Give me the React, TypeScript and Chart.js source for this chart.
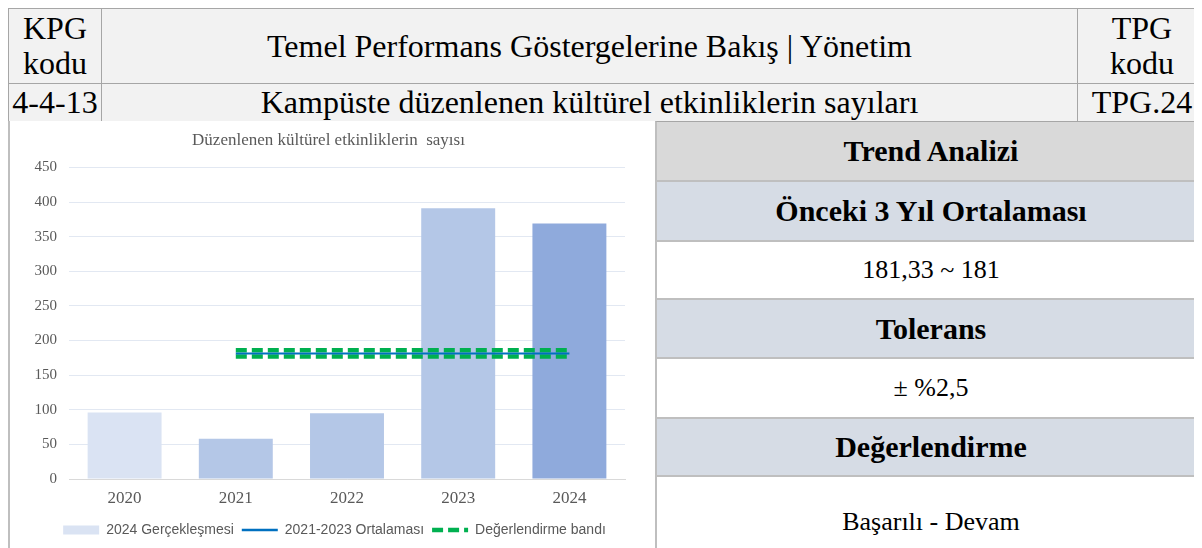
import React, { useEffect, useRef } from "react";
import { Chart, registerables } from "chart.js";

Chart.register(...registerables);

// ---- data ----
const categories = ["2020", "2021", "2022", "2023", "2024"];
const actualValues = [96, 58, 95, 391, 369];
const averageValues = [null, 181.33, 181.33, 181.33, 181.33];
const bandUpperValues = [null, 185.86, 185.86, 185.86, 185.86];
const bandLowerValues = [null, 176.8, 176.8, 176.8, 176.8];
const yTickMin = 0;
const yTickMax = 450;
const yTickStep = 50;
const legendLabels = ["2024 Gerçekleşmesi", "2021-2023 Ortalaması", "Değerlendirme bandı"];
const chartTitle = "Düzenlenen kültürel etkinliklerin  sayısı";

const barColors = ["#dae3f3", "#b4c7e7", "#b4c7e7", "#b4c7e7", "#8faadc"];
const avgColor = "#0070c0";
const bandColor = "#00b050";
const SERIF = "'Times New Roman', 'Liberation Serif', serif";

const legendShift = {
  id: "legendShift",
  afterLayout(chart: any) {
    if (chart.legend) {
      chart.legend.left += 6;
      chart.legend.right += 6;
    }
  },
};

function BarChart() {
  const ref = useRef<HTMLCanvasElement | null>(null);
  useEffect(() => {
    if (!ref.current) return;
    const chart = new Chart(ref.current, {
      type: "bar",
      plugins: [legendShift],
      data: {
        labels: categories,
        datasets: [
          {
            type: "bar",
            label: legendLabels[0],
            data: actualValues,
            backgroundColor: barColors,
            categoryPercentage: 0.665,
            barPercentage: 1,
            order: 3,
          },
          {
            type: "line",
            label: legendLabels[1],
            data: averageValues as any,
            borderColor: avgColor,
            backgroundColor: avgColor,
            borderWidth: 2,
            pointRadius: 0,
            fill: false,
            order: 0,
          },
          {
            type: "line",
            label: legendLabels[2],
            data: bandUpperValues as any,
            borderColor: bandColor,
            backgroundColor: bandColor,
            borderWidth: 4.5,
            borderDash: [11, 5],
            pointRadius: 0,
            fill: false,
            order: 1,
          },
          {
            type: "line",
            label: "band-lower",
            data: bandLowerValues as any,
            borderColor: bandColor,
            backgroundColor: bandColor,
            borderWidth: 4.5,
            borderDash: [11, 5],
            pointRadius: 0,
            fill: false,
            order: 1,
          },
        ] as any,
      },
      options: {
        animation: false,
        responsive: false,
        maintainAspectRatio: false,
        layout: { padding: { left: 22, right: 30, top: 0, bottom: 1 } },
        plugins: {
          tooltip: { enabled: false },
          title: {
            display: true,
            text: chartTitle,
            color: "#595959",
            font: { family: SERIF, size: 17, weight: "normal" as any },
            padding: { top: 9, bottom: 17 },
          },
          legend: {
            position: "bottom",
            labels: {
              usePointStyle: true,
              pointStyleWidth: 36,
              boxWidth: 36,
              boxHeight: 9,
              padding: 8,
              color: "#595959",
              font: { family: "'Liberation Sans', Arial, sans-serif", size: 14 },
              generateLabels: () => [
                {
                  text: legendLabels[0],
                  fillStyle: "#dae3f3",
                  strokeStyle: "#dae3f3",
                  lineWidth: 0,
                  pointStyle: "rect",
                  hidden: false,
                  datasetIndex: 0,
                  fontColor: "#595959",
                } as any,
                {
                  text: legendLabels[1],
                  fillStyle: avgColor,
                  strokeStyle: avgColor,
                  lineWidth: 2.5,
                  pointStyle: "line",
                  hidden: false,
                  datasetIndex: 1,
                  fontColor: "#595959",
                } as any,
                {
                  text: legendLabels[2],
                  fillStyle: bandColor,
                  strokeStyle: bandColor,
                  lineWidth: 4.5,
                  lineDash: [11, 5],
                  pointStyle: "line",
                  hidden: false,
                  datasetIndex: 2,
                  fontColor: "#595959",
                } as any,
              ],
            },
          },
        },
        scales: {
          x: {
            grid: { display: false, drawTicks: false },
            border: { color: "#d9d9d9", width: 1 },
            ticks: { color: "#595959", font: { family: SERIF, size: 17 }, padding: 9 },
            afterFit: (s: any) => {
              s.height = 36;
            },
          },
          y: {
            min: yTickMin,
            max: yTickMax,
            ticks: {
              stepSize: yTickStep,
              color: "#595959",
              font: { family: SERIF, size: 15 },
              padding: 12,
            },
            grid: { color: "#e2e8f2", drawTicks: false },
            border: { display: false },
            afterFit: (s: any) => {
              s.width = 37;
            },
          },
        },
      } as any,
    });
    return () => chart.destroy();
  }, []);
  return (
    <canvas
      ref={ref}
      width={645}
      height={427}
      style={{ position: "absolute", left: 2, top: 113, width: 645, height: 427 }}
    />
  );
}

const headerCell: React.CSSProperties = {
  position: "absolute",
  boxSizing: "border-box",
  border: "1px solid #a6a6a6",
  background: "#f2f2f2",
  display: "flex",
  alignItems: "center",
  justifyContent: "center",
  textAlign: "center",
  fontSize: 32,
  lineHeight: "35px",
  whiteSpace: "nowrap",
};

const panelRows = [
  { text: "Trend Analizi", bold: true, bg: "#d9d9d9", top: 113, h: 59 },
  { text: "Önceki 3 Yıl Ortalaması", bold: true, bg: "#d6dce5", top: 172, h: 60 },
  { text: "181,33 ~ 181", bold: false, bg: "#ffffff", top: 232, h: 58 },
  { text: "Tolerans", bold: true, bg: "#d6dce5", top: 290, h: 59 },
  { text: "± %2,5", bold: false, bg: "#ffffff", top: 349, h: 60 },
  { text: "Değerlendirme", bold: true, bg: "#d6dce5", top: 409, h: 58 },
  { text: "Başarılı - Devam", bold: false, bg: "#ffffff", top: 467, h: 92 },
];

export default function App() {
  return (
    <div
      style={{
        position: "relative",
        width: 1194,
        height: 540,
        overflow: "hidden",
        fontFamily: SERIF,
        color: "#000",
        background: "#fff",
      }}
    >
      <div style={{ ...headerCell, left: 0, top: 0, width: 94, height: 76 }}>
        KPG
        <br />
        kodu
      </div>
      <div style={{ ...headerCell, left: 93, top: 0, width: 977, height: 76 }}>
        Temel Performans Göstergelerine Bakış | Yönetim
      </div>
      <div style={{ ...headerCell, left: 1069, top: 0, width: 130, height: 76 }}>
        TPG
        <br />
        kodu
      </div>
      <div style={{ ...headerCell, left: 0, top: 75, width: 94, height: 39 }}>4-4-13</div>
      <div style={{ ...headerCell, left: 93, top: 75, width: 977, height: 39 }}>
        Kampüste düzenlenen kültürel etkinliklerin sayıları
      </div>
      <div style={{ ...headerCell, left: 1069, top: 75, width: 130, height: 39 }}>TPG.24</div>

      <div
        style={{
          position: "absolute",
          left: 0,
          top: 113,
          width: 648,
          height: 440,
          boxSizing: "border-box",
          borderLeft: "2px solid #bfbfbf",
          background: "#fff",
        }}
      />
      <BarChart />

      {panelRows.map((r, i) => (
        <div
          key={i}
          style={{
            position: "absolute",
            left: 647,
            top: r.top,
            width: 550,
            height: r.h + 2,
            boxSizing: "border-box",
            borderLeft: "2px solid #bfbfbf",
            borderTop: i === 0 ? "1px solid #a6a6a6" : "2px solid #bfbfbf",
            borderBottom: "2px solid #bfbfbf",
            background: r.bg,
            display: "flex",
            alignItems: "center",
            justifyContent: "center",
            fontSize: r.bold ? 30 : 26,
            fontWeight: r.bold ? "bold" : "normal",
            whiteSpace: "nowrap",
          }}
        >
          {r.text}
        </div>
      ))}
    </div>
  );
}
